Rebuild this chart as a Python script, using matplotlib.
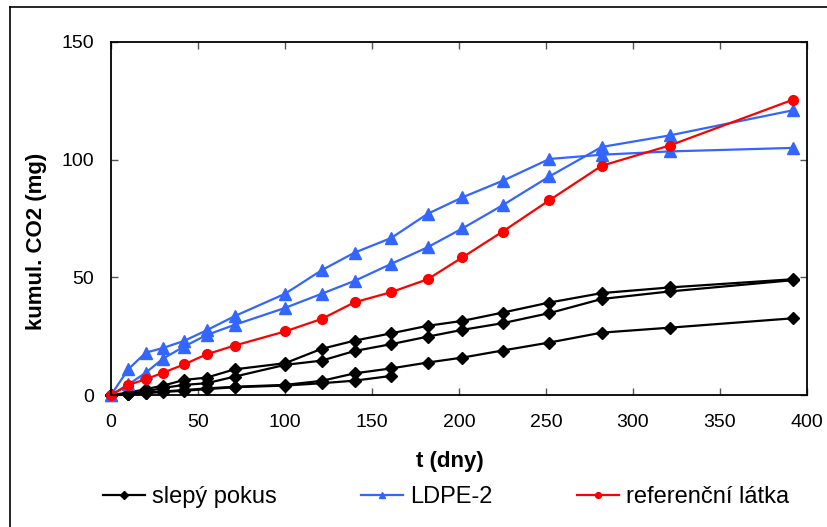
import matplotlib.pyplot as plt
from matplotlib.lines import Line2D

plt.rcParams['font.family'] = ['Liberation Sans', 'DejaVu Sans']

# sampling days
days = [0, 10, 20, 30, 42, 55, 71, 100, 121, 140, 161, 182, 202, 225, 252, 282, 321, 392]

# blank runs (slepý pokus)
blank_1 = [0, 1.0, 2.5, 4.0, 6.4, 7.4, 10.9, 13.5, 19.6, 23.1, 26.2, 29.4, 31.5, 35.0, 39.3, 43.3, 45.7, 49.2]
blank_2 = [0, 0.5, 1.5, 3.0, 4.3, 5.0, 7.8, 12.8, 14.6, 18.7, 21.6, 24.8, 27.7, 30.5, 34.8, 40.8, 44.0, 48.8]
blank_3 = [0, 0.3, 1.0, 1.5, 2.1, 2.8, 3.5, 4.3, 6.0, 9.2, 11.3, 13.8, 15.9, 18.9, 22.3, 26.5, 28.6, 32.6]
blank_4_days = [0, 10, 20, 30, 42, 55, 71, 100, 121, 140, 161]
blank_4 = [0, 0.3, 0.8, 1.3, 1.8, 2.5, 3.3, 4.0, 5.0, 6.1, 8.1]

# LDPE-2 runs
ldpe_1 = [0, 11.0, 18.0, 20.0, 23.0, 27.5, 33.5, 43.0, 53.0, 60.5, 66.7, 77.0, 84.0, 91.0, 100.3, 102.1, 103.5, 105.0]
ldpe_2 = [0, 4.5, 9.5, 15.5, 20.6, 25.5, 29.8, 37.0, 43.0, 48.5, 55.7, 62.8, 70.8, 80.6, 92.9, 105.4, 110.3, 121.0]

# reference substance (referenční látka)
ref = [0, 4.3, 6.7, 9.5, 13.0, 17.3, 21.0, 27.0, 32.3, 39.4, 43.7, 49.2, 58.5, 69.4, 82.8, 97.4, 106.0, 125.5]

W, H = 827, 527
fig = plt.figure(figsize=(W / 100, H / 100), dpi=100)
ax = fig.add_axes([111 / W, 1 - 395 / H, (807 - 111) / W, (395 - 42) / H])

blue = '#3366ff'
blk = dict(color='black', marker='D', markersize=6.5, lw=1.6, clip_on=False)
ax.plot(days, blank_1, label='slepý pokus', **blk)
ax.plot(days, blank_2, **blk)
ax.plot(days, blank_3, **blk)
ax.plot(blank_4_days, blank_4, **blk)

tri = dict(color=blue, marker='^', markersize=8, lw=1.6, clip_on=False)
ax.plot(days, ldpe_1, label='LDPE-2', **tri)
ax.plot(days, ldpe_2, **tri)

ax.plot(days, ref, color='red', marker='o', markersize=7, lw=1.6, clip_on=False,
        label='referenční látka')

ax.set_xlim(0, 400)
ax.set_ylim(0, 150)
ax.set_xticks(range(0, 401, 50))
ax.set_yticks(range(0, 151, 50))
ax.tick_params(direction='in', length=5, width=1, colors='#555555', labelcolor='black',
               labelsize=14, top=True, right=True)
ax.tick_params(axis='x', pad=14)
ax.tick_params(axis='y', pad=12)
for s in ax.spines.values():
    s.set_linewidth(1.3)
    s.set_color('black')

fig.text(37 / W, 1 - 241 / H, 'kumul. CO2 (mg)', rotation=90, ha='center', va='center',
         fontsize=16, fontweight='bold')
fig.text(450 / W, 1 - 462 / H, 't (dny)', ha='center', va='center',
         fontsize=16, fontweight='bold')

fig.legend(loc='center', bbox_to_anchor=(446 / W, 1 - 497 / H), ncol=3, frameon=False,
           fontsize=17, markerscale=0.6, handlelength=1.75, handletextpad=0.3,
           columnspacing=3.6)

# outer chart border (top and left visible)
fig.add_artist(Line2D([10 / W, 1.0], [1 - 7 / H, 1 - 7 / H], transform=fig.transFigure,
                      color='black', lw=1.2))
fig.add_artist(Line2D([10 / W, 10 / W], [0, 1 - 7 / H], transform=fig.transFigure,
                      color='black', lw=1.2))

fig.savefig('out.png', dpi=100)
